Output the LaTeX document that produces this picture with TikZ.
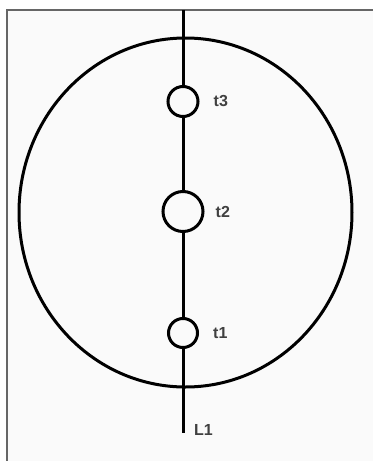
\documentclass[tikz,border=0pt]{standalone}
\usepackage{fontspec}
\setmainfont{Liberation Sans}
\usepackage{tikz}
\usetikzlibrary{positioning}

\begin{document}
\begin{tikzpicture}[
    x=1pt, y=-1pt,
    ring/.style={draw, circle, line width=3pt, inner sep=0pt},
    lbl/.style={font=\fontsize{16}{16}\selectfont\bfseries, text=black!75, inner sep=0pt},
    wire/.style={line width=3pt}
]
\useasboundingbox (0,0) rectangle (373,461);
% --- frame ---
\fill[black!2] (7,10) rectangle (373,461);
\draw[black!60, line width=1.8pt] (7,461) -- (7,10) -- (373,10);

% --- outer ellipse ---
\draw[line width=3pt] (185.5,212.5) ellipse [x radius=166.5, y radius=174.5];

% --- rings on the line ---
\coordinate (top) at (183,10);
\node[ring, minimum size=30pt] (t3) at (183,101.5) {};
\node[ring, minimum size=40pt] (t2) at (183,211.5) {};
\node[ring, minimum size=29pt] (t1) at (183,333) {};
\coordinate (bot) at (183,433);

\draw[wire] (top) -- (t3);
\draw[wire] (t3) -- (t2);
\draw[wire] (t2) -- (t1);
\draw[wire] (t1) -- (bot);

% --- labels ---
\node[lbl, right=14pt of t3] (lt3) {t3};
\node[lbl, right=11pt of t2] (lt2) {t2};
\node[lbl, right=14pt of t1] (lt1) {t1};
\node[lbl, anchor=west] (ll1) at (194,430) {L1};
\end{tikzpicture}
\end{document}
